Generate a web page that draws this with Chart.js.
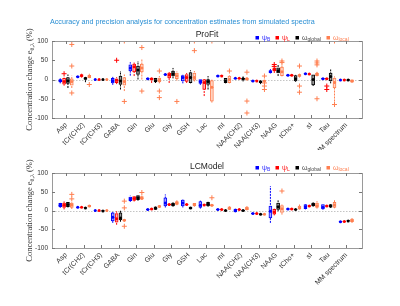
<!DOCTYPE html>
<html>
<head>
<meta charset="utf-8">
<script src="https://cdn.jsdelivr.net/npm/chart.js@4.4.1/dist/chart.umd.min.js"></script>
<style>
  html, body { margin: 0; padding: 0; background: #fff; }
  .panel { position: absolute; left: 0; width: 400px; }
</style>
</head>
<body>
<div class="panel" style="top:0;height:150px"><canvas id="c1"></canvas></div>
<div class="panel" style="top:150px;height:156px"><canvas id="c2"></canvas></div>
<script>
// categories on the x axis
const cats = ['Asp', 'tCr(CH2)', 'tCr(CH3)', 'GABA', 'Gln', 'Glu', 'Gly', 'GSH', 'Lac', 'mI',
  'NAA(CH2)', 'NAA(CH3)', 'NAAG', 'tCho+', 'sI', 'Tau', 'MM spectrum'];
const yTicks = [-100, -50, 0, 50, 100];

// box stats per category: [whisker low, q1, median, q3, whisker high]
const profitPsiB = [[-10,-6,-3,0,4],[6,6,7,8,8],[-1,0,0,0,1],[-14,-9,-3,3,7],[10,22,30,38,45],
  [1,1,2,3,3],[11,12,13,14,15],[-10,-4,5,10,14],[-14,-10,-5,0,1],[8,8,9,10,10],[2,2,3,4,4],
  [-5,-5,-4,-3,-3],[16,18,20,23,27],[10,10,11,12,12],[13,14,15,16,17],[1,1,2,3,3],[-2,-2,-1,-1,0]];
const profitPsiL = [[-16,-12,-5,3,8],[5,8,10,13,15],[-1,0,0,0,1],[-12,-8,-2,2,6],[9,20,33,40,44],
  [-9,-2,2,3,4],[-9,4,12,17,20],[-9,-5,5,13,17],[-43,-26,-8,0,2],[8,9,9,10,10],[2,2,3,3,4],
  [-5,-4,-4,-3,-3],[17,22,26,30,33],[10,10,11,12,12],[12,13,14,15,17],[0,1,2,3,3],[-2,-2,-1,0,0]];
const profitOmegaGlobal = [[-22,-10,-3,5,13],[-7,0,3,5,7],[-1,0,0,0,1],[-26,-13,-4,9,22],[0,13,25,35,48],
  [-9,-6,-3,3,4],[3,9,15,22,30],[-10,-8,5,18,24],[-26,-13,-5,0,9],[-10,-8,-4,3,5],[-5,0,2,3,9],
  [-12,-8,-6,-4,-3],[9,17,23,30,39],[-6,-4,2,10,12],[-17,-14,0,12,14],[-10,-4,8,17,26],[-3,-2,-1,0,0]];
const profitOmegaLocal = [[-22,-15,-5,2,10],[4,5,7,11,15],[-1,0,0,0,1],[-30,-15,-5,5,13],[0,20,30,40,52],
  [-10,-6,-2,4,9],[-3,2,10,17,22],[-5,-2,5,17,22],[-60,-56,-20,-3,0],[-10,-8,0,9,12],[-3,-1,2,4,6],
  [-6,-5,-4,-3,-2],[8,10,20,32,37],[5,8,11,13,15],[8,10,14,17,20],[-65,-22,-8,4,8],[-8,-7,-4,-1,0]];

const lcmPsiB = [[7,10,14,19,22],[8,8,9,9,10],[-1,0,0,0,1],[-33,-28,-18,-6,-2],[23,26,31,36,40],
  [2,2,3,4,4],[8,12,20,34,43],[8,12,20,28,30],[5,8,14,24,27],[2,2,3,4,4],[-5,-4,0,4,5],
  [-9,-9,-8,-7,-7],[-33,-20,-2,12,65],[3,3,4,5,5],[3,5,10,16,17],[2,4,9,16,17],[-31,-31,-30,-29,-29]];
const lcmPsiL = [[3,8,14,20,25],[8,8,9,9,9],[-1,0,0,0,1],[-38,-31,-22,-8,-2],[24,27,32,37,40],
  [2,3,4,5,6],[14,15,16,17,18],[14,15,16,17,18],[13,14,15,16,17],[2,2,3,3,4],[2,2,3,3,4],
  [-9,-9,-8,-8,-7],[-13,-10,-4,3,5],[3,3,4,5,5],[11,11,12,13,13],[11,11,12,13,13],[-30,-30,-29,-28,-28]];
const lcmOmegaGlobal = [[8,10,16,22,24],[6,6,7,8,8],[-2,-1,-1,0,0],[-30,-25,-20,-6,0],[26,29,34,40,42],
  [3,3,6,10,12],[10,12,16,20,22],[4,5,7,9,10],[10,12,17,22,24],[-1,-1,0,1,1],[-1,-1,0,1,1],
  [-11,-11,-10,-9,-9],[-2,3,10,20,27],[2,2,3,3,4],[10,12,16,20,22],[7,9,12,16,17],[-29,-28,-28,-27,-27]];
const lcmOmegaLocal = [[4,8,15,20,22],[9,10,12,14,16],[-1,0,0,0,1],[-30,-28,-26,-24,-22],[28,30,33,37,40],
  [8,9,11,13,16],[14,16,20,24,29],[10,12,16,19,20],[11,12,14,16,18],[2,3,6,10,12],[1,2,5,9,12],
  [-10,-10,-10,-9,-9],[-11,-5,5,13,16],[3,4,7,12,16],[5,8,13,20,25],[6,8,15,22,29],[-33,-30,-27,-23,-20]];

// outliers: [category, value]
const profitPsiLOut = [['Asp',15],['GABA',50],['NAAG',39],['NAAG',34],['Tau',-17],['Tau',-26]];
const profitOmegaLocalOut = [['Asp',91],['Asp',35],['Asp',-35],['tCr(CH2)',-13],['GABA',100],['GABA',-57],
  ['Gln',83],['Gln',-30],['Glu',22],['Glu',-30],['Glu',-47],['Gly',-57],['GSH',100],['GSH',75],['Lac',100],
  ['mI',22],['NAA(CH2)',19],['NAA(CH2)',-56],['NAA(CH2)',-87],['NAA(CH3)',9],['NAA(CH3)',-9],['NAA(CH3)',-17],
  ['NAA(CH3)',-26],['NAAG',48],['NAAG',44],['tCho+',35],['tCho+',-17],['tCho+',-33],['sI',48],['sI',43],
  ['sI',38],['sI',-50],['Tau',100],['Tau',-65]];
const lcmOmegaLocalOut = [['Asp',43],['Asp',31],['GABA',25],['GABA',7],['GABA',-42],['Gln',48],['Lac',34],
  ['NAAG',52]];

const seriesNames = [['\u03c8', 'B'], ['\u03c8', 'L'], ['\u03c9', 'global'], ['\u03c9', 'local']];
const colors = ['#0000ff', '#ff0000', '#000000', '#ff7f50'];
const fills = ['#a8a8ff', '#ffb4b4', '#9a9a9a', '#ffd8c8'];
const textColors = ['#3030ff', '#ff2020', '#444', '#ff7f50'];
const offsets = [-0.33, -0.11, 0.11, 0.33];

function makeDatasets(stats, outs) {
  const ds = [];
  stats.forEach((s, k) => {
    const xs = s.map((_, i) => i + 1 + offsets[k]);
    const whisk = [];
    s.forEach((b, i) => whisk.push({x: xs[i], y: b[0]}, {x: xs[i], y: b[4]}, {x: xs[i], y: null}));
    ds.push({type: 'line', data: whisk, borderColor: colors[k], borderWidth: 1, borderDash: [2, 1],
      pointRadius: 0, spanGaps: false, order: 4});
    ds.push({type: 'bar', data: s.map((b, i) => ({x: xs[i], y: [b[1], b[3]]})), backgroundColor: fills[k],
      borderColor: colors[k], borderWidth: 1, borderSkipped: false, barThickness: 3, grouped: false, order: 3});
    ds.push({type: 'scatter', data: s.map((b, i) => ({x: xs[i], y: b[2]})), pointStyle: 'circle',
      pointRadius: 1.5, backgroundColor: colors[k], borderWidth: 0, order: 2});
    const o = (outs[k] || []).map(p => ({x: cats.indexOf(p[0]) + 1 + offsets[k], y: p[1]}));
    ds.push({type: 'scatter', data: o, pointStyle: 'cross', pointRadius: 2.5, borderColor: colors[k],
      borderWidth: 1, order: 1});
  });
  return ds;
}

const frame = {
  id: 'frame',
  beforeDatasetsDraw(chart) {
    const {ctx, chartArea: a, scales: {y}} = chart;
    ctx.save();
    ctx.strokeStyle = '#c4c4c4';
    ctx.lineWidth = 1;
    ctx.setLineDash([1.5, 1.5]);
    const y0 = Math.round(y.getPixelForValue(0)) + 0.5;
    ctx.beginPath(); ctx.moveTo(a.left, y0); ctx.lineTo(a.right, y0); ctx.stroke();
    ctx.restore();
  },
  afterDraw(chart, args, opts) {
    const {ctx, chartArea: a, scales: {x, y}} = chart;
    ctx.save();
    ctx.strokeStyle = '#9a9a9a';
    ctx.lineWidth = 1;
    ctx.strokeRect(a.left + 0.5, a.top + 0.5, a.right - a.left, a.bottom - a.top);
    ctx.strokeStyle = '#777';
    ctx.beginPath();
    cats.forEach((c, i) => {
      const px = Math.round(x.getPixelForValue(i + 1)) + 0.5;
      ctx.moveTo(px, a.bottom); ctx.lineTo(px, a.bottom - 3);
      ctx.moveTo(px, a.top); ctx.lineTo(px, a.top + 3);
    });
    yTicks.forEach(v => {
      const py = Math.round(y.getPixelForValue(v)) + 0.5;
      ctx.moveTo(a.left, py); ctx.lineTo(a.left + 3, py);
      ctx.moveTo(a.right, py); ctx.lineTo(a.right - 3, py);
    });
    ctx.stroke();

    // y axis title with subscript
    ctx.fillStyle = '#333';
    ctx.textBaseline = 'alphabetic';
    ctx.textAlign = 'left';
    const big = '8.5px "Liberation Serif", serif', small = '6px "Liberation Serif", serif';
    const parts = [['Concentration change e', big, 0], ['\u03b8,\u03bb', small, 2], [' (%)', big, 0]];
    let total = 0;
    parts.forEach(p => { ctx.font = p[1]; total += ctx.measureText(p[0]).width; });
    ctx.translate(32, (a.top + a.bottom) / 2 + total / 2);
    ctx.rotate(-Math.PI / 2);
    let tx = 0;
    parts.forEach(p => { ctx.font = p[1]; ctx.fillText(p[0], tx, p[2]); tx += ctx.measureText(p[0]).width; });
    ctx.setTransform(1, 0, 0, 1, 0, 0);
    ctx.restore();
    ctx.save();

    // panel title
    ctx.fillStyle = '#222';
    ctx.font = '8.5px "Liberation Sans", Arial, sans-serif';
    ctx.textAlign = 'center';
    ctx.textBaseline = 'middle';
    ctx.fillText(opts.title, (a.left + a.right) / 2, opts.titleY);

    // legend
    const lx = [257, 277, 297, 328];
    seriesNames.forEach((n, k) => {
      ctx.fillStyle = colors[k];
      ctx.fillRect(lx[k] - 1.5, opts.legendY - 1.5, 3.5, 3.5);
      ctx.fillStyle = textColors[k];
      ctx.textAlign = 'left';
      ctx.textBaseline = 'alphabetic';
      ctx.font = '7px "Liberation Sans", Arial, sans-serif';
      ctx.fillText(n[0], lx[k] + 5, opts.legendY + 2.5);
      const w = ctx.measureText(n[0]).width;
      ctx.font = '5px "Liberation Sans", Arial, sans-serif';
      ctx.fillText(n[1], lx[k] + 5 + w, opts.legendY + 3.5);
    });

    // main title
    if (opts.mainTitle) {
      ctx.fillStyle = '#2a8fd4';
      ctx.font = '10px "Liberation Sans", Arial, sans-serif';
      const w10 = ctx.measureText(opts.mainTitle).width;
      ctx.font = (10 * 265 / w10).toFixed(2) + 'px "Liberation Sans", Arial, sans-serif';
      ctx.textAlign = 'left';
      ctx.textBaseline = 'middle';
      ctx.fillText(opts.mainTitle, 50, 22);
    }
    ctx.restore();
  }
};

function makeChart(id, stats, outs, xHeight, topPad, pluginOpts) {
  return new Chart(document.getElementById(id), {
    type: 'scatter',
    data: {datasets: makeDatasets(stats, outs)},
    options: {
      responsive: true,
      maintainAspectRatio: false,
      animation: false,
      events: [],
      layout: {padding: {left: 0, right: 38, top: topPad, bottom: 0}},
      plugins: {legend: {display: false}, tooltip: {enabled: false}, frame: pluginOpts},
      scales: {
        x: {
          type: 'linear', min: 0.2, max: 17.9, offset: false,
          grid: {display: false, drawTicks: false}, border: {display: false},
          afterBuildTicks: s => { s.ticks = cats.map((c, i) => ({value: i + 1})); },
          afterFit: s => { s.height = xHeight; },
          ticks: {
            autoSkip: false, minRotation: 45, maxRotation: 45, padding: 3, color: '#333',
            font: {family: '"Liberation Sans", Arial, sans-serif', size: 7},
            callback: v => cats[v - 1]
          }
        },
        y: {
          min: -100, max: 100,
          grid: {display: false, drawTicks: false}, border: {display: false},
          afterBuildTicks: s => { s.ticks = yTicks.map(v => ({value: v})); },
          afterFit: s => { s.width = 52; },
          ticks: {padding: 4, color: '#333', font: {family: '"Liberation Sans", Arial, sans-serif', size: 6.5}}
        }
      }
    },
    plugins: [frame]
  });
}

makeChart('c1', [profitPsiB, profitPsiL, profitOmegaGlobal, profitOmegaLocal],
  [[], profitPsiLOut, [], profitOmegaLocalOut], 32, 41,
  {title: 'ProFit', titleY: 35, legendY: 37.5,
   mainTitle: 'Accuracy and precision analysis for concentration estimates from simulated spectra'});
makeChart('c2', [lcmPsiB, lcmPsiL, lcmOmegaGlobal, lcmOmegaLocal],
  [[], [], [], lcmOmegaLocalOut], 58, 23,
  {title: 'LCModel', titleY: 17, legendY: 17.5});
</script>
</body>
</html>
